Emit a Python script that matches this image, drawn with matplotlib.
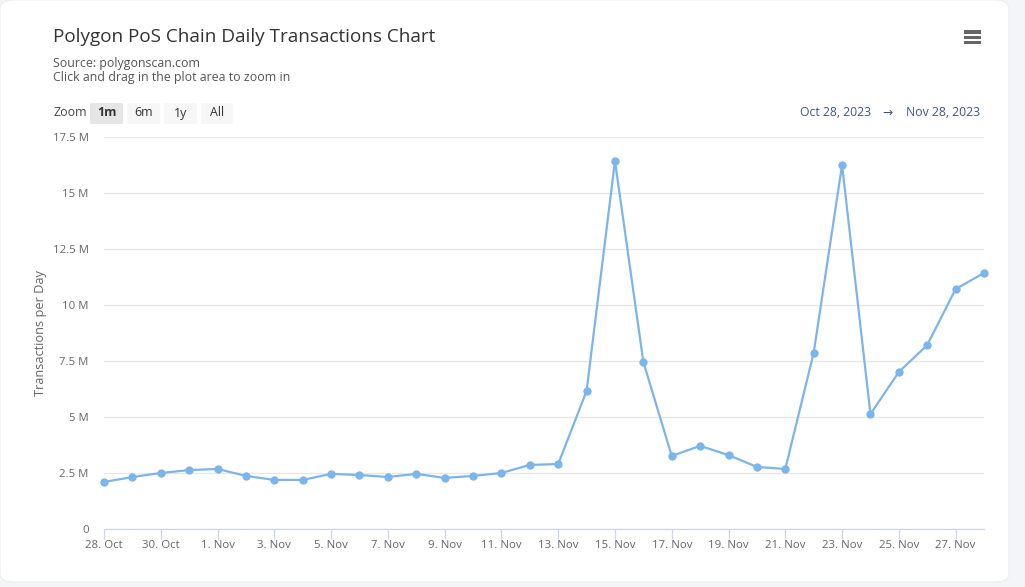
import numpy as np
import pandas as pd
import matplotlib
matplotlib.use("Agg")
from matplotlib import pyplot as plt
from matplotlib.patches import FancyBboxPatch, Rectangle
import matplotlib.dates as mdates
from matplotlib.ticker import FuncFormatter

plt.rcParams['font.family'] = ['Open Sans', 'DejaVu Sans']

# daily transactions (millions), Oct 28 - Nov 28 2023
dates = pd.date_range("2023-10-28", "2023-11-28", freq="D")
txns = [2.10, 2.32, 2.50, 2.63, 2.68, 2.37, 2.19, 2.19, 2.46, 2.41,
        2.32, 2.46, 2.28, 2.37, 2.50, 2.86, 2.90, 6.16, 16.43, 7.46,
        3.26, 3.71, 3.30, 2.77, 2.68, 7.86, 16.25, 5.13, 7.01, 8.21,
        10.71, 11.43]
yticks = [0, 2.5, 5, 7.5, 10, 12.5, 15, 17.5]
zoom_buttons = ["1m", "6m", "1y", "All"]

W, H = 1025, 587
fig = plt.figure(figsize=(W / 100, H / 100), dpi=100)
fig.patch.set_facecolor("#f4f5f8")

# white card
card = FancyBboxPatch((0 / W, 5 / H), 1009 / W, (H - 5) / H,
                      boxstyle="round,pad=0,rounding_size=0.014",
                      transform=fig.transFigure, facecolor="white",
                      edgecolor="#eceef2", linewidth=0.8, zorder=-10)
fig.patches.append(card)

ax = fig.add_axes([104 / W, 1 - 529 / H, (984 - 104) / W, (529 - 137) / H])
ax.set_facecolor("none")
ax.set_zorder(5)

ax.plot(dates, txns, color="#7cb5ec", lw=1.6, marker="o", ms=6,
        markeredgewidth=0, clip_on=False, zorder=3)

ax.set_xlim(dates[0], dates[-1])
ax.set_ylim(0, 17.5)
ax.set_yticks(yticks)
ax.yaxis.set_major_formatter(FuncFormatter(
    lambda v, p: "0" if v == 0 else ("%g M" % v)))
ax.set_xticks(dates[::2])
ax.xaxis.set_major_formatter(FuncFormatter(
    lambda v, p: "%d. %s" % (mdates.num2date(v).day, mdates.num2date(v).strftime("%b"))))

ax.grid(axis="y", color="#e6e6e6", lw=0.9)
ax.set_axisbelow(True)
for s in ["top", "right", "left"]:
    ax.spines[s].set_visible(False)
ax.spines["bottom"].set_color("#ccd6eb")
ax.spines["bottom"].set_linewidth(0.9)
ax.tick_params(axis="y", length=0, pad=11, labelsize=8.2, labelcolor="#666666")
ax.tick_params(axis="x", length=7, color="#ccd6eb", width=0.9, pad=1,
               labelsize=8.2, labelcolor="#666666")
ax.set_ylabel("Transactions per Day", fontsize=9.2, color="#666666", labelpad=4)

# titles
fig.text(53 / W, 1 - 37 / H, "Polygon PoS Chain Daily Transactions Chart",
         fontsize=13.6, color="#333333", va="center")
fig.text(53 / W, 1 - 63 / H, "Source: polygonscan.com", fontsize=8.9,
         color="#555555", va="center")
fig.text(53 / W, 1 - 78 / H, "Click and drag in the plot area to zoom in",
         fontsize=8.9, color="#555555", va="center")

# range selector
fig.text(53 / W, 1 - 113 / H, "Zoom", fontsize=8.9, color="#444444", va="center")
bx = [90, 127, 164, 201]
bw = [33, 33, 33, 32]
for i, lab in enumerate(zoom_buttons):
    fc = "#e6e6e6" if i == 0 else "#f7f7f7"
    fig.patches.append(FancyBboxPatch((bx[i] / W, 1 - 124 / H), bw[i] / W, 21 / H,
                                      boxstyle="round,pad=0,rounding_size=0.002",
                                      transform=fig.transFigure, facecolor=fc,
                                      edgecolor="none", zorder=1))
    fig.text((bx[i] + bw[i] / 2) / W, 1 - 113 / H, lab, fontsize=8.9,
             color="#333333", ha="center", va="center",
             fontweight="bold" if i == 0 else "normal", zorder=2)

fig.text(980 / W, 1 - 112 / H, "Nov 28, 2023", fontsize=8.8,
         color="#3d5590", ha="right", va="center")
fig.text(887 / W, 1 - 112 / H, "\u2192", fontsize=8.8,
         color="#3d5590", ha="center", va="center")
fig.text(871 / W, 1 - 112 / H, "Oct 28, 2023", fontsize=8.8,
         color="#3d5590", ha="right", va="center")

# menu icon
for yy in [32, 37, 42]:
    fig.patches.append(Rectangle((964 / W, 1 - (yy + 1.5) / H), 17 / W, 3 / H,
                                 transform=fig.transFigure, facecolor="#666666",
                                 edgecolor="none", zorder=2))

fig.savefig("out.png", dpi=100, facecolor=fig.get_facecolor())
